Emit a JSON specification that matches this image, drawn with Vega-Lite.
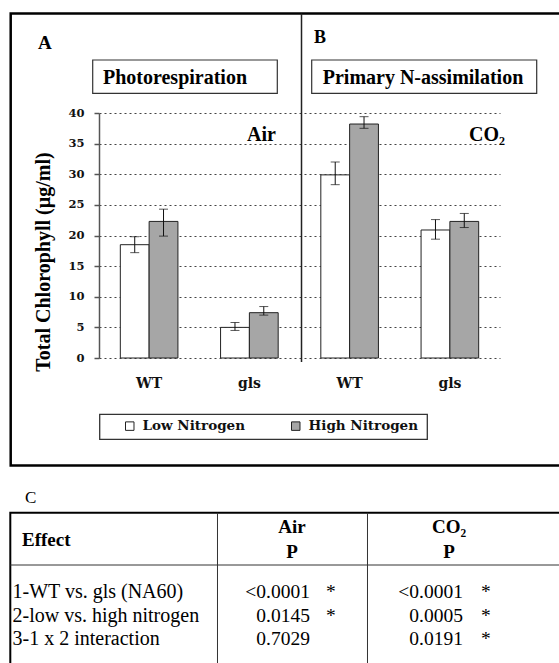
{
  "$schema": "https://vega.github.io/schema/vega-lite/v6.json",
  "width": 401,
  "height": 245,
  "autosize": {"type": "none"},
  "padding": {"left": 99, "top": 113, "right": 59, "bottom": 305},
  "background": "white",
  "config": {"view": {"stroke": null}},
  "datasets": {
    "chlorophyll": [
      {"group": "WT|Air", "genotype": "WT", "condition": "Air", "nitrogen": "Low Nitrogen", "chl": 18.5, "lo": 17.2, "hi": 19.8},
      {"group": "WT|Air", "genotype": "WT", "condition": "Air", "nitrogen": "High Nitrogen", "chl": 22.3, "lo": 19.9, "hi": 24.3},
      {"group": "gls|Air", "genotype": "gls", "condition": "Air", "nitrogen": "Low Nitrogen", "chl": 5.0, "lo": 4.5, "hi": 5.8},
      {"group": "gls|Air", "genotype": "gls", "condition": "Air", "nitrogen": "High Nitrogen", "chl": 7.4, "lo": 7.0, "hi": 8.4},
      {"group": "WT|CO2", "genotype": "WT", "condition": "CO2", "nitrogen": "Low Nitrogen", "chl": 29.9, "lo": 28.3, "hi": 32.0},
      {"group": "WT|CO2", "genotype": "WT", "condition": "CO2", "nitrogen": "High Nitrogen", "chl": 38.2, "lo": 37.5, "hi": 39.4},
      {"group": "gls|CO2", "genotype": "gls", "condition": "CO2", "nitrogen": "Low Nitrogen", "chl": 20.9, "lo": 19.4, "hi": 22.6},
      {"group": "gls|CO2", "genotype": "gls", "condition": "CO2", "nitrogen": "High Nitrogen", "chl": 22.3, "lo": 21.3, "hi": 23.6}
    ],
    "anova": [
      {"effect": "1-WT vs. gls (NA60)", "air": "<0.0001", "airSig": "*", "co2": "<0.0001", "co2Sig": "*"},
      {"effect": "2-low vs. high nitrogen", "air": "0.0145", "airSig": "*", "co2": "0.0005", "co2Sig": "*"},
      {"effect": "3-1 x 2 interaction", "air": "0.7029", "airSig": "", "co2": "0.0191", "co2Sig": "*"}
    ],
    "one": [{}]
  },
  "layer": [
    {
      "data": {"name": "chlorophyll"},
      "encoding": {
        "x": {
          "field": "group", "type": "nominal",
          "scale": {"domain": ["WT|Air", "gls|Air", "WT|CO2", "gls|CO2"], "paddingInner": 0, "paddingOuter": 0},
          "axis": {"title": null, "ticks": false, "tickSize": 0, "domain": false, "grid": false, "labelAngle": 0, "labelFont": "DejaVu Serif", "labelFontWeight": "bold", "labelFontSize": 14, "labelColor": "#111", "labelPadding": 18, "labelBaseline": "top", "labelExpr": "split(datum.value, '|')[0]"}
        },
        "xOffset": {"field": "nitrogen", "type": "nominal", "scale": {"domain": ["Low Nitrogen", "High Nitrogen"], "paddingInner": 0, "paddingOuter": 0.74}}
      },
      "layer": [
        {
          "mark": {"type": "bar", "stroke": "#222", "strokeWidth": 1},
          "encoding": {
            "y": {
              "field": "chl", "type": "quantitative", "title": "Total Chlorophyll (µg/ml)",
              "scale": {"domain": [0, 40], "nice": false},
              "axis": {"values": [0, 5, 10, 15, 20, 25, 30, 35, 40], "labelOverlap": false, "grid": true, "gridDash": [2, 3], "gridColor": "#444", "gridWidth": 1, "domainColor": "#555", "domainWidth": 1.5, "tickColor": "#555", "tickWidth": 1.5, "tickSize": 5, "labelFont": "DejaVu Serif", "labelFontWeight": "bold", "labelFontSize": 11.5, "labelColor": "#111", "labelPadding": 10, "titleFont": "Liberation Serif", "titleFontSize": 20, "titleFontWeight": "bold", "titleColor": "black", "titleX": -50, "titleY": 148.5, "titleAlign": "center", "titleBaseline": "alphabetic", "titleAngle": -90}
            },
            "fill": {
              "field": "nitrogen", "type": "nominal",
              "scale": {"domain": ["Low Nitrogen", "High Nitrogen"], "range": ["white", "#a6a6a6"]},
              "legend": {"orient": "none", "legendX": 24, "legendY": 306, "direction": "horizontal", "title": null, "symbolType": "square", "symbolSize": 72, "symbolStrokeColor": "#222", "symbolStrokeWidth": 1, "labelFont": "DejaVu Serif", "labelFontWeight": "bold", "labelFontSize": 13.5, "labelColor": "#111", "labelOffset": 6, "columnPadding": 44, "padding": 0}
            }
          }
        },
        {
          "mark": {"type": "rule", "color": "#111", "strokeWidth": 1},
          "encoding": {
            "y": {"field": "lo", "type": "quantitative", "title": "Total Chlorophyll (µg/ml)", "axis": {"values": [0, 5, 10, 15, 20, 25, 30, 35, 40], "labelOverlap": false, "grid": true}},
            "y2": {"field": "hi"}
          }
        },
        {
          "mark": {"type": "tick", "color": "#111", "size": 9, "thickness": 1},
          "encoding": {"y": {"field": "lo", "type": "quantitative", "title": "Total Chlorophyll (µg/ml)", "axis": {"values": [0, 5, 10, 15, 20, 25, 30, 35, 40], "labelOverlap": false, "grid": true}}}
        },
        {
          "mark": {"type": "tick", "color": "#111", "size": 9, "thickness": 1},
          "encoding": {"y": {"field": "hi", "type": "quantitative", "title": "Total Chlorophyll (µg/ml)", "axis": {"values": [0, 5, 10, 15, 20, 25, 30, 35, 40], "labelOverlap": false, "grid": true}}}
        }
      ]
    },
    {
      "data": {"name": "one"},
      "layer": [
        {
          "mark": {"type": "rect", "filled": false, "stroke": "black", "strokeWidth": 2.5},
          "encoding": {
            "x": {"datum": -0.8808, "type": "quantitative", "scale": {"domain": [0, 4], "nice": false, "zero": false}, "axis": {"orient": "bottom", "values": [0, 1, 2, 3, 4], "labels": false, "grid": false, "title": null, "domainColor": "#555", "domainWidth": 1.5, "tickColor": "#555", "tickWidth": 1.5, "tickSize": 5}},
            "x2": {"datum": 4.9975},
            "y": {"datum": 56.245, "type": "quantitative", "scale": {"domain": [0, 40], "nice": false, "zero": false}, "axis": null},
            "y2": {"datum": -17.551}
          }
        },
        {
          "mark": {"type": "rule", "color": "#222", "strokeWidth": 1.5},
          "encoding": {
            "x": {"datum": 2.02, "type": "quantitative", "axis": null},
            "y": {"datum": 56.245, "type": "quantitative", "axis": null},
            "y2": {"datum": -0.653}
          }
        },
        {
          "mark": {"type": "rect", "filled": false, "stroke": "#333", "strokeWidth": 1.2},
          "encoding": {
            "x": {"datum": -0.0628, "type": "quantitative", "axis": null},
            "x2": {"datum": 1.7786},
            "y": {"datum": 48.653, "type": "quantitative", "axis": null},
            "y2": {"datum": 43.216}
          }
        },
        {
          "mark": {"type": "rect", "filled": false, "stroke": "#333", "strokeWidth": 1.2},
          "encoding": {
            "x": {"datum": 2.1217, "type": "quantitative", "axis": null},
            "x2": {"datum": 4.3661},
            "y": {"datum": 48.653, "type": "quantitative", "axis": null},
            "y2": {"datum": 43.216}
          }
        },
        {
          "mark": {"type": "rect", "filled": false, "stroke": "#333", "strokeWidth": 1.3},
          "encoding": {
            "x": {"datum": 0.007, "type": "quantitative", "axis": null},
            "x2": {"datum": 3.2748},
            "y": {"datum": -9.192, "type": "quantitative", "axis": null},
            "y2": {"datum": -13.273}
          }
        },
        {
          "mark": {"type": "text", "align": "center", "baseline": "alphabetic", "font": "Liberation Serif", "fontWeight": "bold", "fontSize": 20, "color": "black"},
          "encoding": {
            "x": {"datum": 0.7581, "type": "quantitative", "axis": null},
            "y": {"datum": 44.816, "type": "quantitative", "axis": null},
            "text": {"value": "Photorespiration"}
          }
        },
        {
          "mark": {"type": "text", "align": "center", "baseline": "alphabetic", "font": "Liberation Serif", "fontWeight": "bold", "fontSize": 20, "color": "black"},
          "encoding": {
            "x": {"datum": 3.2319, "type": "quantitative", "axis": null},
            "y": {"datum": 44.816, "type": "quantitative", "axis": null},
            "text": {"value": "Primary N-assimilation"}
          }
        },
        {
          "mark": {"type": "text", "align": "left", "baseline": "alphabetic", "font": "Liberation Serif", "fontWeight": "bold", "fontSize": 19, "color": "black"},
          "encoding": {
            "x": {"datum": -0.6085, "type": "quantitative", "axis": null},
            "y": {"datum": 50.449, "type": "quantitative", "axis": null},
            "text": {"value": "A"}
          }
        },
        {
          "mark": {"type": "text", "align": "left", "baseline": "alphabetic", "font": "Liberation Serif", "fontWeight": "bold", "fontSize": 18, "color": "black"},
          "encoding": {
            "x": {"datum": 2.1446, "type": "quantitative", "axis": null},
            "y": {"datum": 51.347, "type": "quantitative", "axis": null},
            "text": {"value": "B"}
          }
        },
        {
          "mark": {"type": "text", "align": "left", "baseline": "alphabetic", "font": "Liberation Serif", "fontWeight": "bold", "fontSize": 20, "color": "black"},
          "encoding": {
            "x": {"datum": 1.4763, "type": "quantitative", "axis": null},
            "y": {"datum": 35.429, "type": "quantitative", "axis": null},
            "text": {"value": "Air"}
          }
        },
        {
          "mark": {"type": "text", "align": "left", "baseline": "alphabetic", "font": "Liberation Serif", "fontWeight": "bold", "fontSize": 20, "color": "black"},
          "encoding": {
            "x": {"datum": 3.6908, "type": "quantitative", "axis": null},
            "y": {"datum": 35.51, "type": "quantitative", "axis": null},
            "text": {"value": "CO₂"}
          }
        },
        {
          "mark": {"type": "text", "align": "left", "baseline": "alphabetic", "font": "Liberation Serif", "fontSize": 17, "color": "black"},
          "encoding": {
            "x": {"datum": -0.7382, "type": "quantitative", "axis": null},
            "y": {"datum": -23.673, "type": "quantitative", "axis": null},
            "text": {"value": "C"}
          }
        },
        {
          "mark": {"type": "rect", "filled": false, "stroke": "black", "strokeWidth": 2},
          "encoding": {
            "x": {"datum": -0.8848, "type": "quantitative", "axis": null},
            "x2": {"datum": 4.9975},
            "y": {"datum": -25.273, "type": "quantitative", "axis": null},
            "y2": {"datum": -55.837}
          }
        },
        {
          "mark": {"type": "rule", "color": "#333", "strokeWidth": 1},
          "encoding": {
            "x": {"datum": 1.182, "type": "quantitative", "axis": null},
            "y": {"datum": -25.273, "type": "quantitative", "axis": null},
            "y2": {"datum": -55.837}
          }
        },
        {
          "mark": {"type": "rule", "color": "#333", "strokeWidth": 1},
          "encoding": {
            "x": {"datum": 2.6783, "type": "quantitative", "axis": null},
            "y": {"datum": -25.273, "type": "quantitative", "axis": null},
            "y2": {"datum": -55.837}
          }
        },
        {
          "mark": {"type": "rule", "color": "#333", "strokeWidth": 1},
          "encoding": {
            "x": {"datum": -0.8848, "type": "quantitative", "axis": null},
            "x2": {"datum": 4.9975},
            "y": {"datum": -33.796, "type": "quantitative", "axis": null}
          }
        },
        {
          "mark": {"type": "text", "align": "left", "baseline": "alphabetic", "font": "Liberation Serif", "fontWeight": "bold", "fontSize": 19, "color": "black"},
          "encoding": {
            "x": {"datum": -0.7681, "type": "quantitative", "axis": null},
            "y": {"datum": -30.694, "type": "quantitative", "axis": null},
            "text": {"value": "Effect"}
          }
        },
        {
          "mark": {"type": "text", "align": "center", "baseline": "alphabetic", "font": "Liberation Serif", "fontWeight": "bold", "fontSize": 19, "color": "black"},
          "encoding": {
            "x": {"datum": 1.9252, "type": "quantitative", "axis": null},
            "y": {"datum": -28.571, "type": "quantitative", "axis": null},
            "text": {"value": "Air"}
          }
        },
        {
          "mark": {"type": "text", "align": "center", "baseline": "alphabetic", "font": "Liberation Serif", "fontWeight": "bold", "fontSize": 19, "color": "black"},
          "encoding": {
            "x": {"datum": 1.9252, "type": "quantitative", "axis": null},
            "y": {"datum": -32.653, "type": "quantitative", "axis": null},
            "text": {"value": "P"}
          }
        },
        {
          "mark": {"type": "text", "align": "center", "baseline": "alphabetic", "font": "Liberation Serif", "fontWeight": "bold", "fontSize": 19, "color": "black"},
          "encoding": {
            "x": {"datum": 3.4913, "type": "quantitative", "axis": null},
            "y": {"datum": -28.571, "type": "quantitative", "axis": null},
            "text": {"value": "CO₂"}
          }
        },
        {
          "mark": {"type": "text", "align": "center", "baseline": "alphabetic", "font": "Liberation Serif", "fontWeight": "bold", "fontSize": 19, "color": "black"},
          "encoding": {
            "x": {"datum": 3.4913, "type": "quantitative", "axis": null},
            "y": {"datum": -32.653, "type": "quantitative", "axis": null},
            "text": {"value": "P"}
          }
        }
      ]
    },
    {
      "data": {"name": "anova"},
      "encoding": {
        "y": {"field": "effect", "type": "nominal", "scale": {"type": "point", "domain": ["1-WT vs. gls (NA60)", "2-low vs. high nitrogen", "3-1 x 2 interaction"], "range": [485, 532], "padding": 0}, "axis": null}
      },
      "layer": [
        {
          "mark": {"type": "text", "align": "left", "baseline": "alphabetic", "font": "Liberation Serif", "fontSize": 20, "color": "black"},
          "encoding": {
            "x": {"datum": -0.8628, "type": "quantitative", "scale": {"domain": [0, 4], "nice": false, "zero": false}, "axis": null},
            "text": {"field": "effect"}
          }
        },
        {
          "mark": {"type": "text", "align": "right", "baseline": "alphabetic", "font": "Liberation Serif", "fontSize": 19.5, "color": "black"},
          "encoding": {
            "x": {"datum": 2.1047, "type": "quantitative", "axis": null},
            "text": {"field": "air"}
          }
        },
        {
          "mark": {"type": "text", "align": "center", "baseline": "alphabetic", "font": "Liberation Serif", "fontSize": 19.5, "color": "black"},
          "encoding": {
            "x": {"datum": 2.3142, "type": "quantitative", "axis": null},
            "text": {"field": "airSig"}
          }
        },
        {
          "mark": {"type": "text", "align": "right", "baseline": "alphabetic", "font": "Liberation Serif", "fontSize": 19.5, "color": "black"},
          "encoding": {
            "x": {"datum": 3.6309, "type": "quantitative", "axis": null},
            "text": {"field": "co2"}
          }
        },
        {
          "mark": {"type": "text", "align": "center", "baseline": "alphabetic", "font": "Liberation Serif", "fontSize": 19.5, "color": "black"},
          "encoding": {
            "x": {"datum": 3.8603, "type": "quantitative", "axis": null},
            "text": {"field": "co2Sig"}
          }
        }
      ]
    }
  ],
  "resolve": {"scale": {"x": "independent", "y": "independent"}, "axis": {"x": "independent", "y": "independent"}}
}
